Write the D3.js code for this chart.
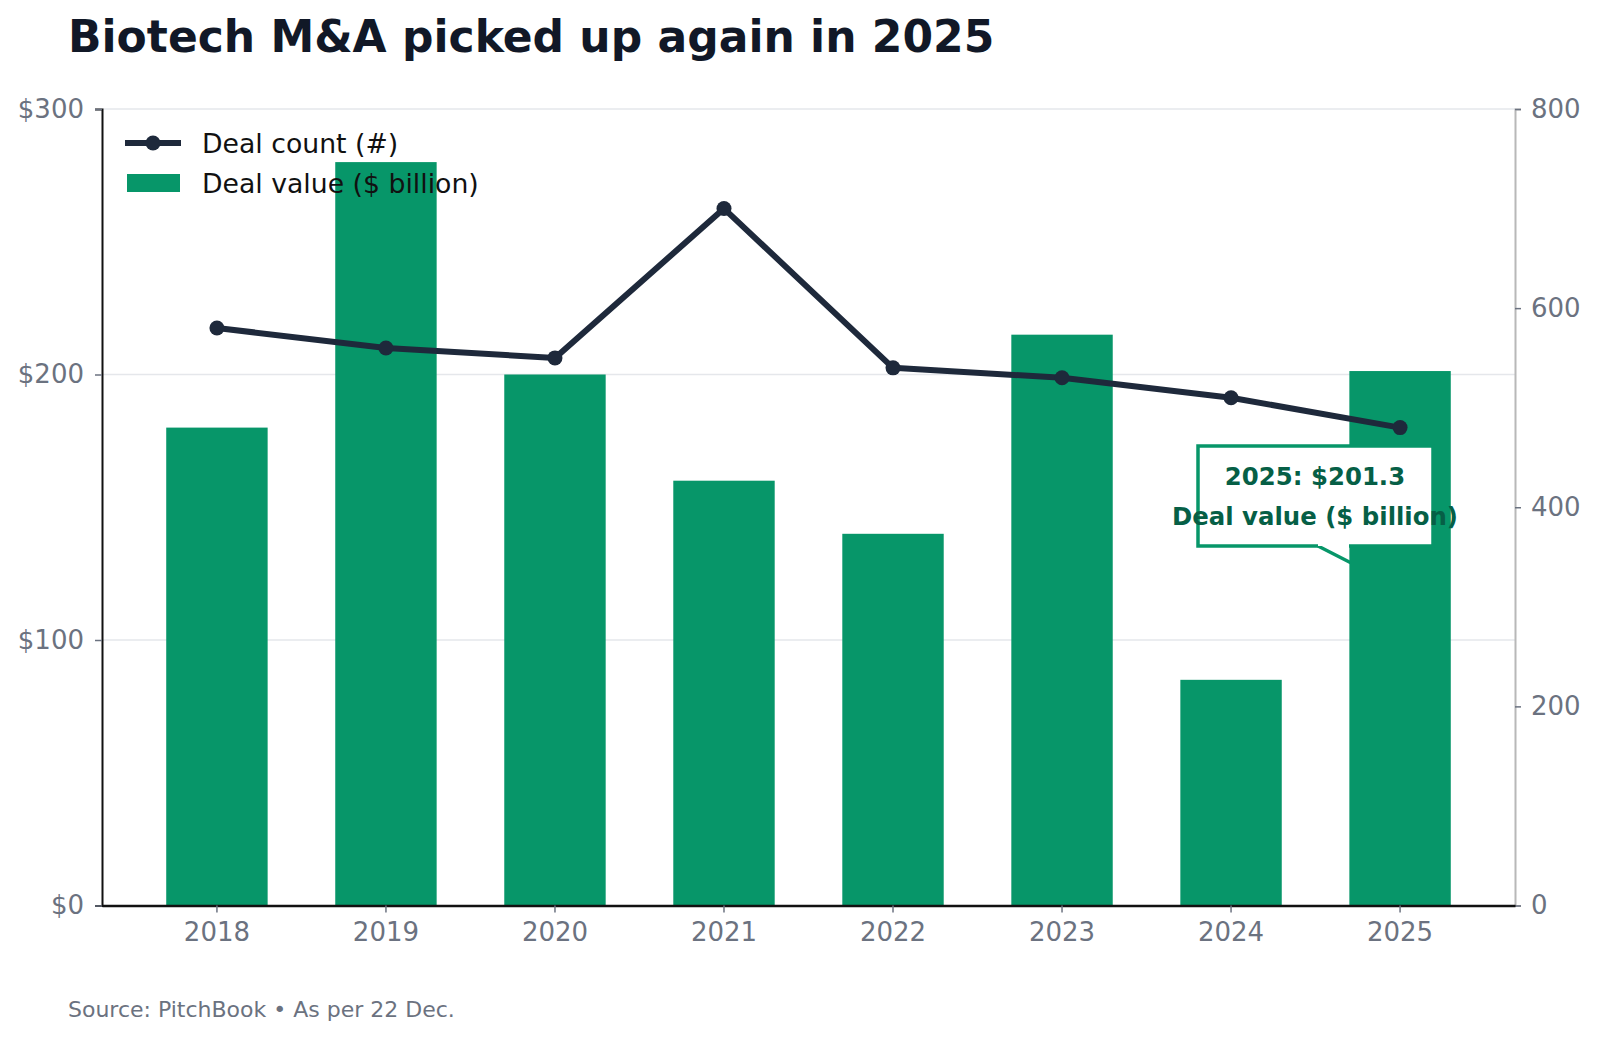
<!DOCTYPE html>
<html>
<head>
<meta charset="utf-8">
<script src="https://cdn.jsdelivr.net/npm/d3@7"></script>
<style>
  body { margin: 0; background: #fff; }
  svg { display: block; font-family: "DejaVu Sans", sans-serif; }
</style>
</head>
<body>
<div id="chart"></div>
<script>
const years = ["2018", "2019", "2020", "2021", "2022", "2023", "2024", "2025"];
const dealValue = [180, 280, 200, 160, 140, 215, 85, 201.3];
const dealCount = [580, 560, 550, 700, 540, 530, 510, 480];
const leftTicks = [0, 100, 200, 300];
const rightTicks = [0, 200, 400, 600, 800];

const width = 1600, height = 1039;
const m = { left: 102, right: 1515, top: 109, bottom: 905.5 };

const green = "#079669";
const navy = "#1e293b";
const gray = "#6b7280";

const svg = d3.select("#chart").append("svg")
  .attr("width", width)
  .attr("height", height);

const x = d3.scaleBand()
  .domain(years)
  .range([m.left, m.right])
  .paddingInner(0.4)
  .paddingOuter(0.38);

const yL = d3.scaleLinear().domain([0, 300]).range([m.bottom, m.top]);
const yR = d3.scaleLinear().domain([0, 800]).range([m.bottom, m.top]);

// title
svg.append("text")
  .attr("x", 68).attr("y", 52)
  .attr("font-size", 44).attr("font-weight", "bold")
  .attr("fill", "#111827")
  .text("Biotech M&A picked up again in 2025");

// grid
svg.append("g")
  .selectAll("line")
  .data(leftTicks.slice(1))
  .join("line")
  .attr("x1", m.left).attr("x2", m.right)
  .attr("y1", d => yL(d)).attr("y2", d => yL(d))
  .attr("stroke", "#e5e7eb").attr("stroke-width", 1.5);

// callout tail (sits under the bars)
const tipX = x("2025") + x.bandwidth() / 2;
svg.append("path")
  .attr("d", `M1318,546 L${tipX},588 L${tipX},546`)
  .attr("fill", "#fff")
  .attr("stroke", green).attr("stroke-width", 3.5);

// bars
svg.append("g")
  .selectAll("rect")
  .data(years)
  .join("rect")
  .attr("x", d => x(d))
  .attr("width", x.bandwidth())
  .attr("y", (d, i) => yL(dealValue[i]))
  .attr("height", (d, i) => yL(0) - yL(dealValue[i]))
  .attr("fill", green);

// axes
const leftAxis = svg.append("g")
  .attr("transform", `translate(${m.left},0)`)
  .call(d3.axisLeft(yL).tickValues(leftTicks).tickFormat(d => "$" + d).tickSize(7).tickPadding(11));
leftAxis.select(".domain").attr("stroke", "#111").attr("stroke-width", 2);

const rightAxis = svg.append("g")
  .attr("transform", `translate(${m.right},0)`)
  .call(d3.axisRight(yR).tickValues(rightTicks).tickSize(6).tickPadding(10));
rightAxis.select(".domain").attr("stroke", "#b8b8b8").attr("stroke-width", 2);

const bottomAxis = svg.append("g")
  .attr("transform", `translate(0,${m.bottom})`)
  .call(d3.axisBottom(x).tickSize(7).tickPadding(10).tickSizeOuter(0));
bottomAxis.select(".domain").attr("stroke", "#111").attr("stroke-width", 2.5);

[leftAxis, rightAxis, bottomAxis].forEach(a => {
  a.selectAll(".tick line").attr("stroke", gray).attr("stroke-width", 1.5);
  a.selectAll(".tick text")
    .attr("fill", gray)
    .attr("font-size", 26)
    .attr("font-family", "DejaVu Sans, sans-serif");
});

// deal count line
const pts = years.map((d, i) => [x(d) + x.bandwidth() / 2, yR(dealCount[i])]);
svg.append("path")
  .attr("d", d3.line()(pts))
  .attr("fill", "none")
  .attr("stroke", navy)
  .attr("stroke-width", 6)
  .attr("stroke-linejoin", "round");
svg.append("g")
  .selectAll("circle")
  .data(pts)
  .join("circle")
  .attr("cx", d => d[0]).attr("cy", d => d[1])
  .attr("r", 7.5)
  .attr("fill", navy);

// annotation box
const note = svg.append("g");
note.append("path")
  .attr("d", "M1318,546 L1198,546 L1198,446 L1433,446 L1433,546 L1349,546")
  .attr("fill", "#fff")
  .attr("stroke", green).attr("stroke-width", 3.5);
note.selectAll("text")
  .data([`${years[7]}: $${dealValue[7].toFixed(1)}`, "Deal value ($ billion)"])
  .join("text")
  .attr("x", 1315)
  .attr("y", (d, i) => 485 + i * 40)
  .attr("text-anchor", "middle")
  .attr("font-size", 24.4).attr("font-weight", "bold")
  .attr("fill", "#065f46")
  .text(d => d);

// legend
const lg = svg.append("g");
lg.append("line")
  .attr("x1", 125).attr("x2", 181).attr("y1", 143).attr("y2", 143)
  .attr("stroke", navy).attr("stroke-width", 6);
lg.append("circle").attr("cx", 153).attr("cy", 143).attr("r", 7.5).attr("fill", navy);
lg.append("rect")
  .attr("x", 127).attr("y", 174).attr("width", 53).attr("height", 18)
  .attr("fill", green);
lg.selectAll("text")
  .data(["Deal count (#)", "Deal value ($ billion)"])
  .join("text")
  .attr("x", 202)
  .attr("y", (d, i) => 153 + i * 40)
  .attr("font-size", 26.7)
  .attr("fill", "#111")
  .text(d => d);

// footer
svg.append("text")
  .attr("x", 68).attr("y", 1017)
  .attr("font-size", 22)
  .attr("fill", gray)
  .text("Source: PitchBook • As per 22 Dec.");
</script>
</body>
</html>
